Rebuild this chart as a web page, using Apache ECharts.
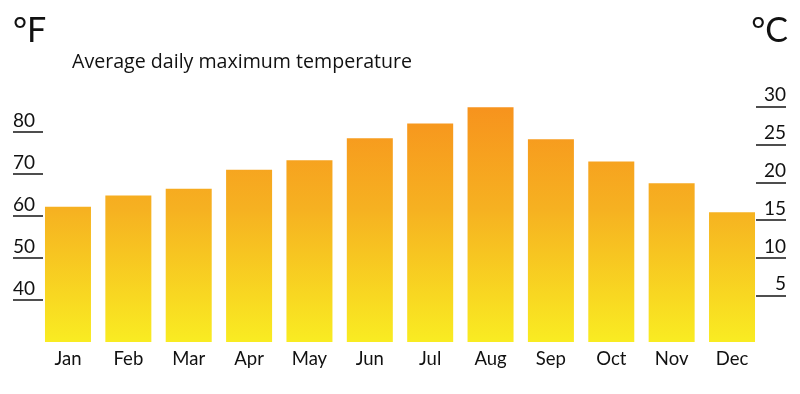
<!DOCTYPE html>
<html>
<head>
<meta charset="utf-8">
<script src="https://cdn.jsdelivr.net/npm/echarts@6/dist/echarts.min.js"></script>
<style>
html,body{margin:0;padding:0;background:#fff;}
#chart{width:800px;height:394px;}
</style>
</head>
<body>
<div id="chart"></div>
<script>
var months = ['Jan','Feb','Mar','Apr','May','Jun','Jul','Aug','Sep','Oct','Nov','Dec'];
var maxTempF = [62.2, 64.9, 66.5, 71.0, 73.3, 78.5, 82.0, 85.9, 78.3, 73.0, 67.8, 60.9];
var fahrenheitTicks = [40, 50, 60, 70, 80];
var celsiusTicks = [5, 10, 15, 20, 25, 30];
var titleText = 'Average daily maximum temperature';

var fMin = 30, fMax = 90;
function toC(f){ return (f - 32) / 1.8; }

var FONT = 'Lato';
var chart = echarts.init(document.getElementById('chart'), null, {renderer:'canvas'});
var barColor = new echarts.graphic.LinearGradient(0, 100, 0, 342, [
  {offset:0, color:'#F7911D'},
  {offset:0.45, color:'#F6B121'},
  {offset:1, color:'#F9EC22'}
], true);

chart.setOption({
  backgroundColor:'#ffffff',
  animation:false,
  title:[
    {text:titleText, left:72, top:52, padding:0,
     textStyle:{fontFamily:'Open Sans', fontSize:19.6, fontWeight:'normal', color:'#111'}},
    {text:'°F', left:13, top:14, padding:0,
     textStyle:{fontFamily:FONT, fontSize:34, fontWeight:'normal', color:'#111'}},
    {text:'°C', right:12, top:14, padding:0,
     textStyle:{fontFamily:FONT, fontSize:34, fontWeight:'normal', color:'#111'}}
  ],
  grid:{left:37.8, right:37.8, top:90, bottom:52, containLabel:false, outerBoundsMode:'none'},
  xAxis:{
    type:'category', data:months,
    axisLine:{show:false}, axisTick:{show:false}, splitLine:{show:false},
    axisLabel:{fontFamily:FONT, fontSize:18.5, color:'#111', margin:8}
  },
  yAxis:[
    {type:'value', position:'left', min:fMin, max:fMax, offset:-5.2,
     axisLine:{show:false}, splitLine:{show:false},
     axisTick:{show:true, length:30, customValues:fahrenheitTicks, lineStyle:{color:'#222', width:1.6}},
     axisLabel:{customValues:fahrenheitTicks, margin:30, align:'left', verticalAlign:'bottom',
       padding:[0,0,2,0], fontFamily:FONT, fontSize:19, color:'#111'}},
    {type:'value', position:'right', min:toC(fMin), max:toC(fMax), offset:-6.2,
     axisLine:{show:false}, splitLine:{show:false},
     axisTick:{show:true, length:30, customValues:celsiusTicks, lineStyle:{color:'#222', width:1.6}},
     axisLabel:{customValues:celsiusTicks, margin:30, align:'right', verticalAlign:'bottom',
       padding:[0,0,2,0], fontFamily:FONT, fontSize:19, color:'#111'}}
  ],
  series:[{
    type:'bar', yAxisIndex:0, data:maxTempF, barWidth:46,
    itemStyle:{color:barColor}
  }]
});
</script>
</body>
</html>
